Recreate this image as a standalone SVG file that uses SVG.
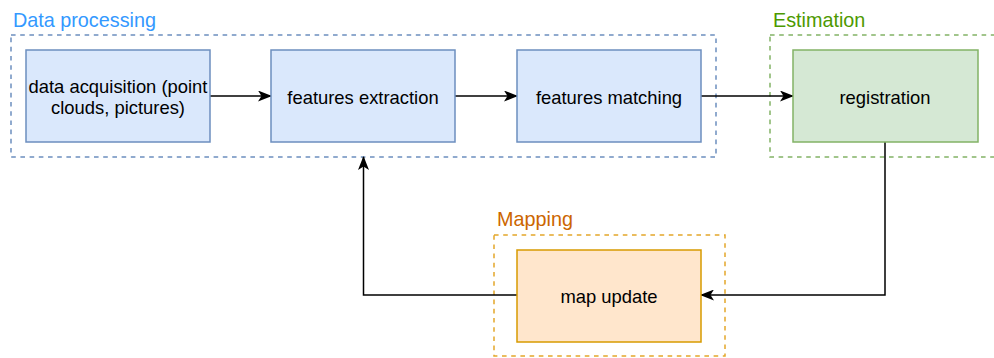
<svg xmlns="http://www.w3.org/2000/svg" width="994" height="358" viewBox="0 0 994 358">
  <style>
    .grp { fill: none; stroke-width: 1.5; stroke-dasharray: 4.6 4.6; }
    .node { stroke-width: 1.5; }
    .blue { fill: #dae8fc; stroke: #6c8ebf; }
    .green { fill: #d5e8d4; stroke: #82b366; }
    .orange { fill: #ffe6cc; stroke: #d79b00; }
    .lbl { font-family: "Liberation Sans", Arial, sans-serif; font-size: 18.4px; fill: #000; text-anchor: middle; dominant-baseline: central; }
    .title { font-family: "Liberation Sans", Arial, sans-serif; font-size: 19.8px; }
    .edge { fill: none; stroke: #000; stroke-width: 1.5; }
  </style>
  <defs>
    <marker id="arrow" viewBox="0 0 14 11" refX="13" refY="5.5" markerWidth="14" markerHeight="11" markerUnits="userSpaceOnUse" orient="auto">
      <path d="M0,0 L14,5.5 L0,11 L3.5,5.5 Z" fill="#000"/>
    </marker>
  </defs>
  <rect width="994" height="358" fill="#fff"/>

  <!-- group frames -->
  <g id="group-data-processing">
    <rect class="grp" x="11" y="35" width="705" height="122" stroke="#6c8ebf"/>
    <text class="title" x="13" y="27" fill="#3399ff">Data processing</text>
  </g>
  <g id="group-estimation">
    <rect class="grp" x="770" y="35" width="240" height="122" stroke="#82b366"/>
    <text class="title" x="773" y="27" fill="#4d9900">Estimation</text>
  </g>
  <g id="group-mapping">
    <rect class="grp" x="494" y="235" width="231" height="121" stroke="#e3a72a"/>
    <text class="title" x="497" y="226" fill="#cc6600">Mapping</text>
  </g>

  <!-- connectors -->
  <g id="connectors">
    <path class="edge" d="M210,96 L271,96" marker-end="url(#arrow)"/>
    <path class="edge" d="M455,96 L517,96" marker-end="url(#arrow)"/>
    <path class="edge" d="M701,96 L793,96" marker-end="url(#arrow)"/>
    <path class="edge" d="M885,142 L885,295 L701,295" marker-end="url(#arrow)"/>
    <path class="edge" d="M517,295 L363.5,295 L363.5,157" marker-end="url(#arrow)"/>
  </g>

  <!-- nodes -->
  <g id="node-acquisition">
    <rect class="node blue" x="26" y="50" width="184" height="92"/>
    <text class="lbl" x="118" y="86.5">data acquisition (point</text>
    <text class="lbl" x="118" y="107.5">clouds, pictures)</text>
  </g>
  <g id="node-extraction">
    <rect class="node blue" x="271" y="50" width="184" height="92"/>
    <text class="lbl" x="363" y="97">features extraction</text>
  </g>
  <g id="node-matching">
    <rect class="node blue" x="517" y="50" width="184" height="92"/>
    <text class="lbl" x="609" y="97">features matching</text>
  </g>
  <g id="node-registration">
    <rect class="node green" x="793" y="50" width="185" height="92"/>
    <text class="lbl" x="885" y="97">registration</text>
  </g>
  <g id="node-map-update">
    <rect class="node orange" x="517" y="250" width="184" height="92"/>
    <text class="lbl" x="609" y="296">map update</text>
  </g>
</svg>
